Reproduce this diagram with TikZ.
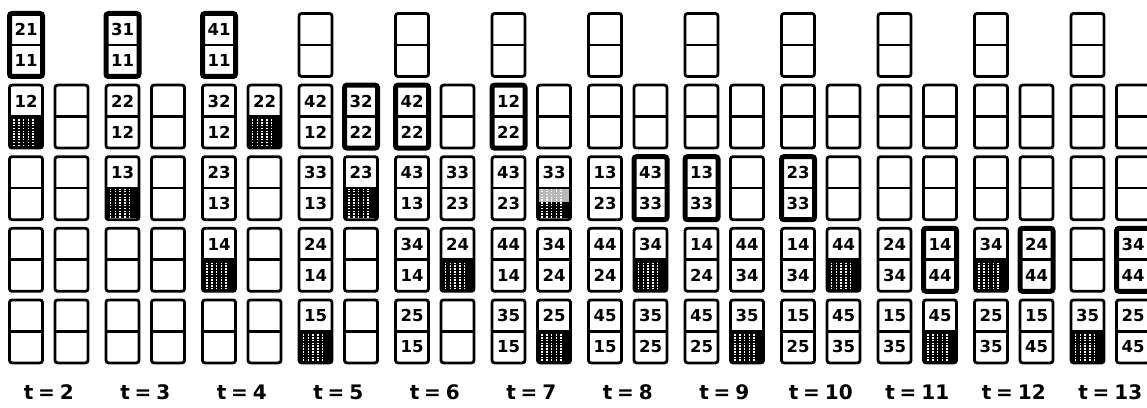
\documentclass[tikz,border=0pt]{standalone}
\usepackage{fontspec}
\setmainfont{DejaVu Sans}
\newfontfamily\labfont[WordSpace=0.7]{DejaVu Sans}
\tikzset{
  box/.style={draw, line width=2.8pt, rounded corners=2.5pt, minimum width=33pt,
    minimum height=63pt, inner sep=0pt, outer sep=0pt},
  mid/.style={line width=2.6pt},
  heavy/.style={line width=5pt, rounded corners=2.5pt},
  num/.style={font=\bfseries\fontsize{16.5}{16.5}\selectfont, inner sep=0pt},
  lab/.style={font=\labfont\bfseries\fontsize{20}{20}\selectfont, inner sep=0pt, anchor=base},
  dots/.style={white, line width=1.5pt, dash pattern=on 1.5pt off 1.3pt},
}
\newcommand\tx[5]{%
  \node[num] (t#1-#2-#3) at ([yshift=15.5pt]b#1-#2-#3.center) {#4};
  \node[num] (u#1-#2-#3) at ([yshift=-15.5pt]b#1-#2-#3.center) {#5};}
\newcommand\tp[4]{%
  \node[num] (t#1-#2-#3) at ([yshift=15.5pt]b#1-#2-#3.center) {#4};}
\newcommand\shd[3]{%
  \fill ([xshift=1.4pt,yshift=1.4pt]b#1-#2-#3.south west) rectangle ([xshift=-1.4pt]b#1-#2-#3.east);
  \foreach \k in {-12,-7.2,...,12}
    \draw[dots] ([xshift=\k pt, yshift=2pt]b#1-#2-#3.south) -- ([xshift=\k pt]b#1-#2-#3.center);
  \draw[mid] (b#1-#2-#3.west) -- (b#1-#2-#3.east);}
\newcommand\shdg[3]{%
  \fill ([xshift=1.4pt,yshift=1.4pt]b#1-#2-#3.south west) rectangle ([xshift=-1.4pt,yshift=-14pt]b#1-#2-#3.east);
  \fill[gray!55] ([xshift=1.4pt,yshift=-14pt]b#1-#2-#3.west) rectangle ([xshift=-1.4pt]b#1-#2-#3.east);
  \foreach \k in {-12,-7.2,...,12}
    \draw[dots] ([xshift=\k pt, yshift=2pt]b#1-#2-#3.south) -- ([xshift=\k pt]b#1-#2-#3.center);
  \draw[mid] (b#1-#2-#3.west) -- (b#1-#2-#3.east);}
\newcommand\thk[3]{\draw[heavy] (b#1-#2-#3.south west) rectangle (b#1-#2-#3.north east);}
\begin{document}
\begin{tikzpicture}
\useasboundingbox (0,0) rectangle (1147pt,407pt);
\fill[white] (0,0) rectangle (1147pt,407pt);
\foreach \i in {0,...,11}{
  \foreach \s/\r in {0/0,0/1,1/1,0/2,1/2,0/3,1/3,0/4,1/4}{
    \pgfmathsetmacro\cx{26+96.5*\i+45.5*\s}
    \pgfmathsetmacro\cy{362-71.6*\r}
    \node[box] (b\i-\s-\r) at (\cx pt,\cy pt) {};
    \draw[mid] (b\i-\s-\r.west) -- (b\i-\s-\r.east);
  }
  \pgfmathsetmacro\lx{48.75+96.5*\i}
  \pgfmathtruncatemacro\tval{\i+2}
  \node[lab] (l\i) at (\lx pt, 8pt) {t = \tval};
}
% t=2
\thk{0}{0}{0}\tx{0}{0}{0}{21}{11}
\shd{0}{0}{1}\tp{0}{0}{1}{12}
% t=3
\thk{1}{0}{0}\tx{1}{0}{0}{31}{11}
\tx{1}{0}{1}{22}{12}
\shd{1}{0}{2}\tp{1}{0}{2}{13}
% t=4
\thk{2}{0}{0}\tx{2}{0}{0}{41}{11}
\tx{2}{0}{1}{32}{12}
\shd{2}{1}{1}\tp{2}{1}{1}{22}
\tx{2}{0}{2}{23}{13}
\shd{2}{0}{3}\tp{2}{0}{3}{14}
% t=5
\tx{3}{0}{1}{42}{12}
\thk{3}{1}{1}\tx{3}{1}{1}{32}{22}
\tx{3}{0}{2}{33}{13}
\shd{3}{1}{2}\tp{3}{1}{2}{23}
\tx{3}{0}{3}{24}{14}
\shd{3}{0}{4}\tp{3}{0}{4}{15}
% t=6
\thk{4}{0}{1}\tx{4}{0}{1}{42}{22}
\tx{4}{0}{2}{43}{13}
\tx{4}{1}{2}{33}{23}
\tx{4}{0}{3}{34}{14}
\shd{4}{1}{3}\tp{4}{1}{3}{24}
\tx{4}{0}{4}{25}{15}
% t=7
\thk{5}{0}{1}\tx{5}{0}{1}{12}{22}
\tx{5}{0}{2}{43}{23}
\shdg{5}{1}{2}\tp{5}{1}{2}{33}
\tx{5}{0}{3}{44}{14}
\tx{5}{1}{3}{34}{24}
\tx{5}{0}{4}{35}{15}
\shd{5}{1}{4}\tp{5}{1}{4}{25}
% t=8
\tx{6}{0}{2}{13}{23}
\thk{6}{1}{2}\tx{6}{1}{2}{43}{33}
\tx{6}{0}{3}{44}{24}
\shd{6}{1}{3}\tp{6}{1}{3}{34}
\tx{6}{0}{4}{45}{15}
\tx{6}{1}{4}{35}{25}
% t=9
\thk{7}{0}{2}\tx{7}{0}{2}{13}{33}
\tx{7}{0}{3}{14}{24}
\tx{7}{1}{3}{44}{34}
\tx{7}{0}{4}{45}{25}
\shd{7}{1}{4}\tp{7}{1}{4}{35}
% t=10
\thk{8}{0}{2}\tx{8}{0}{2}{23}{33}
\tx{8}{0}{3}{14}{34}
\shd{8}{1}{3}\tp{8}{1}{3}{44}
\tx{8}{0}{4}{15}{25}
\tx{8}{1}{4}{45}{35}
% t=11
\tx{9}{0}{3}{24}{34}
\thk{9}{1}{3}\tx{9}{1}{3}{14}{44}
\tx{9}{0}{4}{15}{35}
\shd{9}{1}{4}\tp{9}{1}{4}{45}
% t=12
\shd{10}{0}{3}\tp{10}{0}{3}{34}
\thk{10}{1}{3}\tx{10}{1}{3}{24}{44}
\tx{10}{0}{4}{25}{35}
\tx{10}{1}{4}{15}{45}
% t=13
\thk{11}{1}{3}\tx{11}{1}{3}{34}{44}
\shd{11}{0}{4}\tp{11}{0}{4}{35}
\tx{11}{1}{4}{25}{45}
\end{tikzpicture}
\end{document}
